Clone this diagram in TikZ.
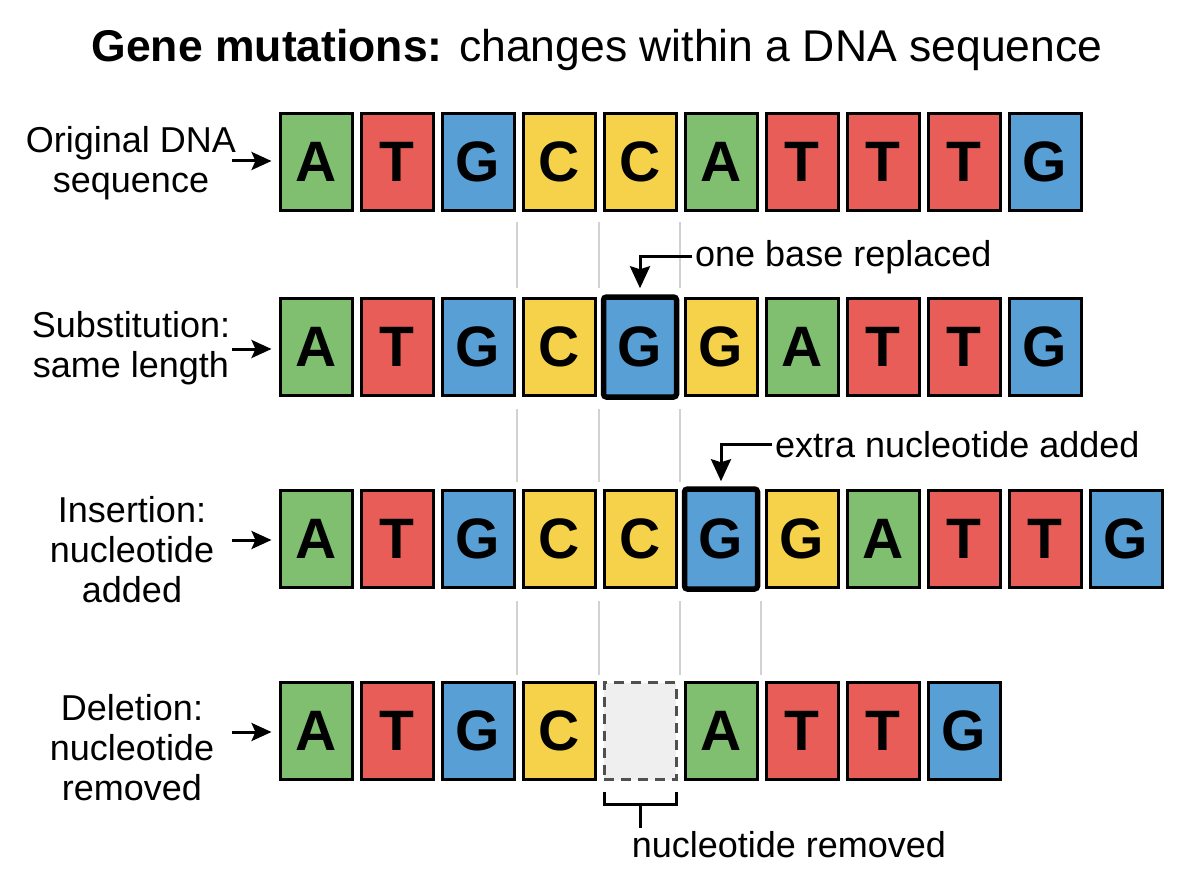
\documentclass[tikz,border=0pt]{standalone}
\usepackage{fontspec}
\setmainfont{Liberation Sans}
\usetikzlibrary{arrows.meta}
\definecolor{cg}{HTML}{7FBF6F}
\definecolor{cr}{HTML}{E85D57}
\definecolor{cb}{HTML}{589FD6}
\definecolor{cy}{HTML}{F6D24A}
\definecolor{guidegray}{HTML}{D2D2D2}
\definecolor{emptyfill}{HTML}{EFEFEF}
\definecolor{dashgray}{HTML}{505050}
\tikzset{
  bx/.style={draw=black, line width=3pt, minimum width=72pt, minimum height=97pt,
    inner sep=0pt, font=\fontsize{57}{57}\selectfont\bfseries},
  bxthick/.style={bx, line width=5.5pt, rounded corners=3pt, minimum width=73pt, minimum height=100pt},
  bxempty/.style={draw=dashgray, fill=emptyfill, line width=3pt, dash pattern=on 10pt off 7pt,
    minimum width=72pt, minimum height=97pt, inner sep=0pt},
  lab/.style={font=\fontsize{36}{40}\selectfont, inner sep=3pt},
  arrl/.style={line width=3pt, -{Stealth[length=20pt,width=18pt,inset=4pt]}, shorten >=7pt},
  arra/.style={line width=3pt, -{Stealth[length=22pt,width=20pt,inset=3pt]}},
  guide/.style={draw=guidegray, line width=1.5pt},
}
\begin{document}
\begin{tikzpicture}[x=1pt,y=-1pt]
\useasboundingbox[fill=white] (0,0) rectangle (1200,896);

% title
\node[anchor=base, font=\fontsize{44.5}{48}\selectfont, inner sep=0pt] (title) at (597,62)
  {\textbf{Gene mutations:} changes within a DNA sequence};

% row 1: original
\foreach \l/\c [count=\i] in {A/cg,T/cr,G/cb,C/cy,C/cy,A/cg,T/cr,T/cr,T/cr,G/cb}
  \node[bx, fill=\c] (r1c\i) at ({316+81*(\i-1)},162) {\l};

% row 2: substitution
\foreach \l/\c [count=\i] in {A/cg,T/cr,G/cb,C/cy}
  \node[bx, fill=\c] (r2c\i) at ({316+81*(\i-1)},347) {\l};
\node[bxthick, fill=cb] (r2c5) at (640,347) {G};
\foreach \l/\c [count=\i from 6] in {G/cy,A/cg,T/cr,T/cr,G/cb}
  \node[bx, fill=\c] (r2c\i) at ({316+81*(\i-1)},347) {\l};

% row 3: insertion
\foreach \l/\c [count=\i] in {A/cg,T/cr,G/cb,C/cy,C/cy}
  \node[bx, fill=\c] (r3c\i) at ({316+81*(\i-1)},539) {\l};
\node[bxthick, fill=cb] (r3c6) at (721,539) {G};
\foreach \l/\c [count=\i from 7] in {G/cy,A/cg,T/cr,T/cr,G/cb}
  \node[bx, fill=\c] (r3c\i) at ({316+81*(\i-1)},539) {\l};

% row 4: deletion
\foreach \l/\c [count=\i] in {A/cg,T/cr,G/cb,C/cy}
  \node[bx, fill=\c] (r4c\i) at ({316+81*(\i-1)},731) {\l};
\node[bxempty] (r4c5) at (640,731) {};
\foreach \l/\c [count=\i from 6] in {A/cg,T/cr,T/cr,G/cb}
  \node[bx, fill=\c] (r4c\i) at ({316+81*(\i-1)},731) {\l};

% guide lines
\foreach \x in {517,599,680} {
  \draw[guide] (\x,222) -- (\x,288);
  \draw[guide] (\x,409) -- (\x,482);
}
\foreach \x in {517,599,680,761}
  \draw[guide] (\x,601) -- (\x,675);

% left labels
\node[lab, align=center] (l1) at (131,163) {Original DNA\\sequence};
\node[lab, align=center] (l2) at (131,348) {Substitution:\\same length};
\node[lab, align=center] (l3) at (132,550) {Insertion:\\nucleotide\\added};
\node[lab, align=center] (l4) at (132,748) {Deletion:\\nucleotide\\removed};

\coordinate (s1) at (232,161);
\coordinate (s2) at (232,349);
\coordinate (s3) at (232,540);
\coordinate (s4) at (232,732);
\draw[arrl] (s1) -- (s1 -| r1c1.west);
\draw[arrl] (s2) -- (s2 -| r2c1.west);
\draw[arrl] (s3) -- (s3 -| r3c1.west);
\draw[arrl] (s4) -- (s4 -| r4c1.west);

% annotations
\node[lab, anchor=base west] (ann1) at (692,266) {one base replaced};
\draw[arra, shorten >=6pt] (ann1.west) -| (r2c5.north);
\node[lab, anchor=base west] (ann2) at (772,457) {extra nucleotide added};
\draw[arra, shorten >=5pt] (ann2.west) -| (r3c6.north);

% deletion bracket
\node[lab, anchor=base] (rem) at (789,857) {nucleotide removed};
\coordinate (bl) at (604,792);
\coordinate (br) at (676,792);
\coordinate (bm) at (640,804);
\draw[line width=3pt] (bl) |- (br |- bm) -- (br);
\draw[line width=3pt] (bm) -- (bm |- rem.north);
\end{tikzpicture}
\end{document}
